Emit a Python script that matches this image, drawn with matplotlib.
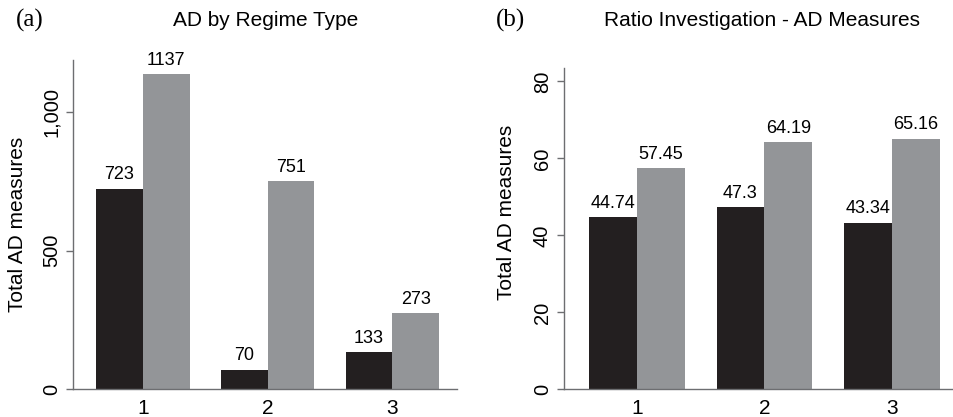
import numpy as np
import matplotlib
matplotlib.use("Agg")
import matplotlib.pyplot as plt
from matplotlib.ticker import FuncFormatter

plt.rcParams['font.family'] = ['Liberation Sans', 'DejaVu Sans']

# data
groups = [1, 2, 3]
regime_dark = [723, 70, 133]
regime_grey = [1137, 751, 273]
ratio_dark = [44.74, 47.3, 43.34]
ratio_grey = [57.45, 64.19, 65.16]
ratio_dark_lbl = ["44.74", "47.3", "43.34"]
ratio_grey_lbl = ["57.45", "64.19", "65.16"]

DARK = "#231f20"
GREY = "#939598"
SPINE = "#6d6e71"
w = 0.375

fig = plt.figure(figsize=(9.54, 4.17), dpi=100)
ax1 = fig.add_axes([0.077, 0.067, 0.402, 0.789])
ax2 = fig.add_axes([0.5915, 0.066, 0.408, 0.771])

def style(ax, ymax, xlim):
    ax.set_ylim(0, ymax)
    ax.set_xlim(*xlim)
    for s in ["top", "right"]:
        ax.spines[s].set_visible(False)
    for s in ["left", "bottom"]:
        ax.spines[s].set_color(SPINE)
        ax.spines[s].set_linewidth(1.0)
    ax.set_xticks(groups)
    ax.tick_params(axis="x", length=0, pad=7, labelsize=15)
    ax.tick_params(axis="y", length=5, width=1, color=SPINE, pad=4, labelsize=14.5)
    plt.setp(ax.get_yticklabels(), rotation=90, va="center")

x = np.array(groups)

# (a)
b1 = ax1.bar(x - w / 2, regime_dark, w, color=DARK)
b2 = ax1.bar(x + w / 2, regime_grey, w, color=GREY)
ax1.bar_label(b1, labels=[str(v) for v in regime_dark], padding=4, fontsize=13)
ax1.bar_label(b2, labels=[str(v) for v in regime_grey], padding=4, fontsize=13)
ax1.set_yticks([0, 500, 1000])
ax1.yaxis.set_major_formatter(FuncFormatter(lambda v, p: f"{int(v):,}"))
style(ax1, 1188, (0.444, 3.517))

# (b)
c1 = ax2.bar(x - w / 2, ratio_dark, w, color=DARK)
c2 = ax2.bar(x + w / 2, ratio_grey, w, color=GREY)
ax2.bar_label(c1, labels=ratio_dark_lbl, padding=4, fontsize=13)
ax2.bar_label(c2, labels=ratio_grey_lbl, padding=4, fontsize=13)
ax2.set_yticks([0, 20, 40, 60, 80])
style(ax2, 83.5, (0.431, 3.483))

# titles and labels
fig.text(0.278, 0.952, "AD by Regime Type", ha="center", va="center", fontsize=15)
fig.text(0.799, 0.952, "Ratio Investigation - AD Measures", ha="center", va="center", fontsize=15)
fig.text(0.017, 0.952, "(a)", ha="left", va="center", fontsize=18, family="Liberation Serif")
fig.text(0.520, 0.952, "(b)", ha="left", va="center", fontsize=18, family="Liberation Serif")
fig.text(0.018, 0.463, "Total AD measures", rotation=90, ha="center", va="center", fontsize=15)
fig.text(0.531, 0.491, "Total AD measures", rotation=90, ha="center", va="center", fontsize=15)

fig.savefig("out.png", dpi=100)
